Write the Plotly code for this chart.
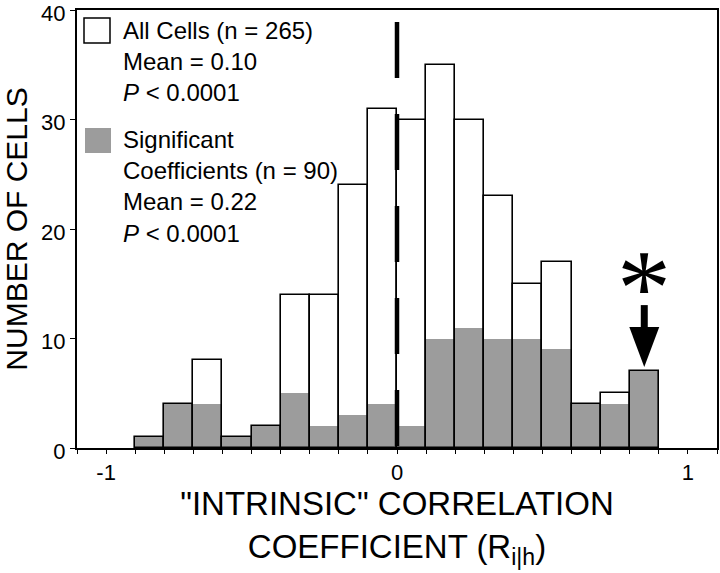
import plotly.graph_objects as go

# ---- data ----
bin_left = [-0.9, -0.8, -0.7, -0.6, -0.5, -0.4, -0.3, -0.2, -0.1,
            0.0, 0.1, 0.2, 0.3, 0.4, 0.5, 0.6, 0.7, 0.8]
all_cells = [1, 4, 8, 1, 2, 14, 14, 24, 31, 30, 35, 30, 23, 15, 17, 4, 5, 7]
significant = [1, 4, 4, 1, 2, 5, 2, 3, 4, 2, 10, 11, 10, 10, 9, 4, 4, 7]
bin_width = 0.1
mean_line_x = 0.0
mean_line_top = 38.9

x_tick_vals = [round(-1.1 + 0.1 * i, 1) for i in range(23)]
x_tick_labels = {-1.0: "-1", 0.0: "0", 1.0: "1"}
y_tick_vals = [0, 10, 20, 30, 40]

legend_all = "All Cells (n = 265)<br>Mean = 0.10<br><i>P</i> < 0.0001"
legend_sig = "Significant<br>Coefficients (n = 90)<br>Mean = 0.22<br><i>P</i> < 0.0001"

GRAY = "#9c9c9c"
FONT = "Liberation Sans, Arial, sans-serif"

centers = [round(b + bin_width / 2, 3) for b in bin_left]

fig = go.Figure()
fig.add_trace(go.Bar(x=centers, y=all_cells, width=bin_width,
                     marker=dict(color="white", line=dict(width=0)), showlegend=False))
fig.add_trace(go.Bar(x=centers, y=significant, width=bin_width,
                     marker=dict(color=GRAY, line=dict(width=0)), showlegend=False))
fig.add_trace(go.Bar(x=centers, y=all_cells, width=bin_width,
                     marker=dict(color="rgba(0,0,0,0)", line=dict(color="black", width=1.6)),
                     showlegend=False))
# dashed line at zero
fig.add_trace(go.Scatter(x=[mean_line_x, mean_line_x], y=[mean_line_top, 0], mode="lines",
                         line=dict(color="black", width=4.5, dash="56px,36px"),
                         showlegend=False, hoverinfo="skip"))

# ---- arrow and asterisk above the last bar ----
ax = centers[-1]
tip = significant[-1] + 0.4
head_base = tip + 3.65
shaft_top = head_base + 2.0
hw = 0.0515
sw = 0.012
fig.add_shape(type="path", xref="x", yref="y",
              path=f"M{ax-hw},{head_base} L{ax+hw},{head_base} L{ax},{tip} Z",
              fillcolor="black", line=dict(width=0))
fig.add_shape(type="rect", xref="x", yref="y", x0=ax - sw, x1=ax + sw,
              y0=head_base - 0.1, y1=shaft_top, fillcolor="black", line=dict(width=0))
fig.add_annotation(x=ax, y=shaft_top + 3.0, xref="x", yref="y", text="*",
                   showarrow=False, font=dict(family="Liberation Serif, Times New Roman, serif",
                                              size=108, color="black"),
                   yanchor="middle", yshift=-15)

# ---- custom legend ----
def px_x(p):
    return (p - 77) / 640.0

def px_y(p):
    return (448 - p) / 438.0

fig.add_shape(type="rect", xref="paper", yref="paper",
              x0=px_x(84), x1=px_x(110), y0=px_y(43), y1=px_y(18),
              fillcolor="white", line=dict(color="black", width=1.5))
fig.add_shape(type="rect", xref="paper", yref="paper",
              x0=px_x(85), x1=px_x(111), y0=px_y(153), y1=px_y(128),
              fillcolor=GRAY, line=dict(width=0))
fig.add_annotation(xref="paper", yref="paper", x=px_x(121), y=px_y(15), text=legend_all,
                   showarrow=False, xanchor="left", yanchor="top", align="left",
                   font=dict(family=FONT, size=24, color="black"))
fig.add_annotation(xref="paper", yref="paper", x=px_x(121), y=px_y(124), text=legend_sig,
                   showarrow=False, xanchor="left", yanchor="top", align="left",
                   font=dict(family=FONT, size=24, color="black"))

fig.update_layout(
    width=720, height=573,
    margin=dict(l=77, r=3, t=10, b=125),
    paper_bgcolor="white", plot_bgcolor="white",
    barmode="overlay", bargap=0,
    font=dict(family=FONT, color="black"),
    xaxis=dict(range=[-1.1, 1.1], tickmode="array", tickvals=x_tick_vals,
               ticktext=[x_tick_labels.get(v, "") for v in x_tick_vals],
               ticks="outside", ticklen=4, tickwidth=1.3, tickcolor="black",
               showline=True, linecolor="black", linewidth=2, mirror=True,
               showgrid=False, zeroline=False, tickfont=dict(size=22), automargin=False,
               ticklabeloverflow="allow",
               title=dict(text="\"INTRINSIC\" CORRELATION<br>COEFFICIENT (R<sub>i|h</sub>)",
                          font=dict(size=33), standoff=2)),
    yaxis=dict(range=[0, 40], tickvals=y_tick_vals,
               ticks="outside", ticklen=5, tickwidth=1.3, tickcolor="black",
               showline=True, linecolor="black", linewidth=2, mirror=True,
               showgrid=False, zeroline=False, tickfont=dict(size=22), automargin=False,
               ticklabeloverflow="allow", ticklabelshift=3,
               title=dict(text="NUMBER OF CELLS", font=dict(size=30), standoff=20)),
)

# remove the default 8px page margin so the 720x573 figure fills the window exactly
fig.write_html("out.html", config={"displayModeBar": False},
               post_script="document.body.style.margin='0';document.body.style.overflow='hidden';")
